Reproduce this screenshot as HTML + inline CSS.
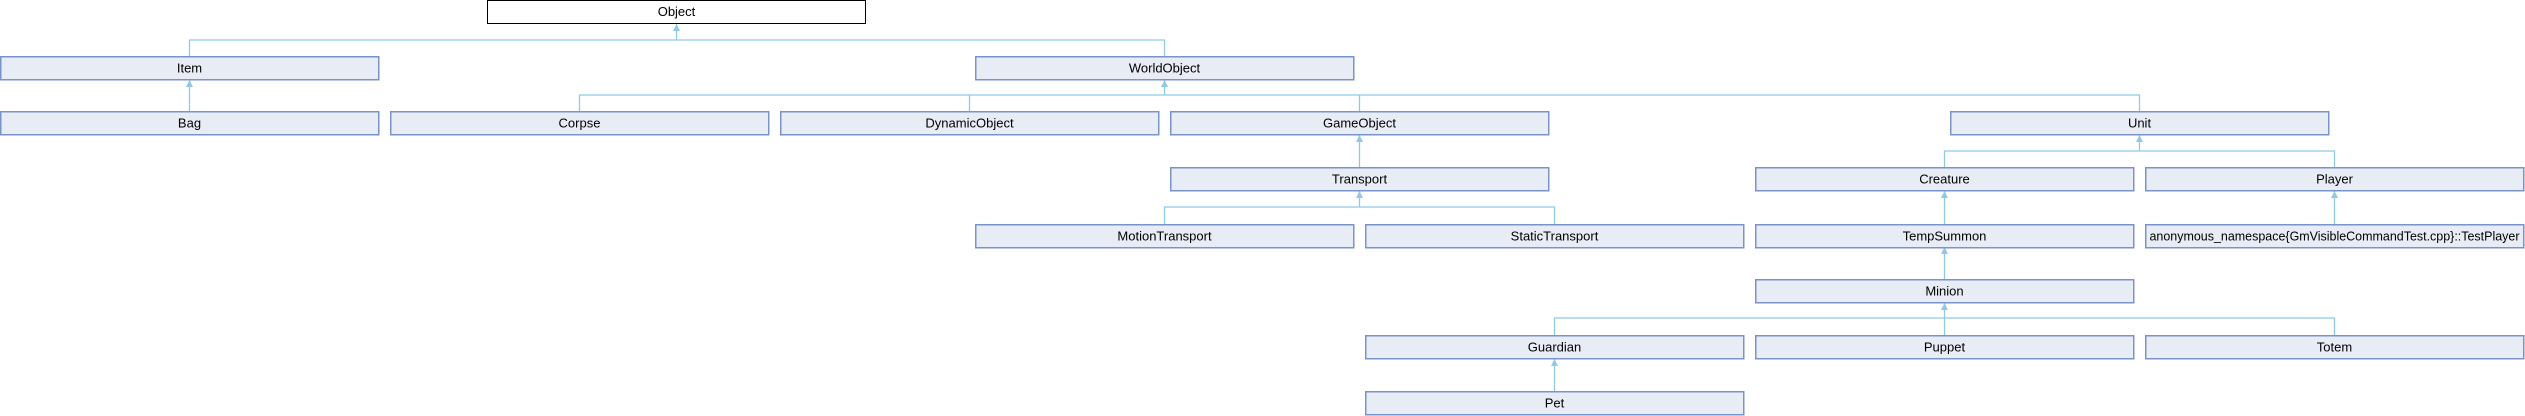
<!DOCTYPE html>
<html><head><meta charset="utf-8"><style>
html,body{margin:0;padding:0;background:#fff;width:2525px;height:416px;overflow:hidden}
text{font-family:"Liberation Sans",sans-serif;font-size:13px;fill:#000}
.b{fill:#e8ecf4;stroke:#7b93cc;stroke-width:1.5}
.l{stroke:#8ecae8;stroke-width:1.3;fill:none}
.a{fill:#8ecae8}
</style></head><body>
<svg width="2525" height="416" xmlns="http://www.w3.org/2000/svg">
<g class="l">
<!-- Object -> Item, WorldObject -->
<polyline points="189.5,56 189.5,40 1164.5,40 1164.5,56"/>
<line x1="676.5" y1="24" x2="676.5" y2="40"/>
<!-- Item->Bag -->
<line x1="189.5" y1="80" x2="189.5" y2="111"/>
<!-- WorldObject children -->
<polyline points="579.5,111 579.5,95 2139.5,95 2139.5,111"/>
<line x1="969.5" y1="95" x2="969.5" y2="111"/>
<line x1="1359.5" y1="95" x2="1359.5" y2="111"/>
<line x1="1164.5" y1="80" x2="1164.5" y2="95"/>
<!-- GameObject->Transport -->
<line x1="1359.5" y1="135" x2="1359.5" y2="167"/>
<!-- Unit children -->
<polyline points="1944.5,167 1944.5,151 2334.5,151 2334.5,167"/>
<line x1="2139.5" y1="135" x2="2139.5" y2="151"/>
<!-- Transport children -->
<polyline points="1164.5,224 1164.5,207 1554.5,207 1554.5,224"/>
<line x1="1359.5" y1="191" x2="1359.5" y2="207"/>
<!-- Creature->TempSummon, Player->anon -->
<line x1="1944.5" y1="191" x2="1944.5" y2="224"/>
<line x1="2334.5" y1="191" x2="2334.5" y2="224"/>
<!-- TempSummon->Minion -->
<line x1="1944.5" y1="247" x2="1944.5" y2="279"/>
<!-- Minion children -->
<polyline points="1554.5,335 1554.5,318 2334.5,318 2334.5,335"/>
<line x1="1944.5" y1="303" x2="1944.5" y2="335"/>
<!-- Guardian->Pet -->
<line x1="1554.5" y1="359" x2="1554.5" y2="391"/>
</g>
<g class="a">
<polygon points="676.5,24 673,31 680,31"/>
<polygon points="189.5,80 186,87 193,87"/>
<polygon points="1164.5,80 1161,87 1168,87"/>
<polygon points="1359.5,135 1356,142 1363,142"/>
<polygon points="2139.5,135 2136,142 2143,142"/>
<polygon points="1359.5,191 1356,198 1363,198"/>
<polygon points="1944.5,191 1941,198 1948,198"/>
<polygon points="2334.5,191 2331,198 2338,198"/>
<polygon points="1944.5,247 1941,254 1948,254"/>
<polygon points="1944.5,303 1941,310 1948,310"/>
<polygon points="1554.5,359 1551,366 1558,366"/>
</g>
<rect x="487.5" y="0.5" width="378" height="23" fill="#fff" stroke="#000" stroke-width="1"/>
<text x="676.5" y="16" text-anchor="middle">Object</text>
<g>
<rect class="b" x="0.75" y="56.75" width="378" height="23"/><text x="189.5" y="72.5" text-anchor="middle">Item</text>
<rect class="b" x="975.75" y="56.75" width="378" height="23"/><text x="1164.5" y="72.5" text-anchor="middle">WorldObject</text>

<rect class="b" x="0.75" y="111.75" width="378" height="23"/><text x="189.5" y="127.5" text-anchor="middle">Bag</text>
<rect class="b" x="390.75" y="111.75" width="378" height="23"/><text x="579.5" y="127.5" text-anchor="middle">Corpse</text>
<rect class="b" x="780.75" y="111.75" width="378" height="23"/><text x="969.5" y="127.5" text-anchor="middle">DynamicObject</text>
<rect class="b" x="1170.75" y="111.75" width="378" height="23"/><text x="1359.5" y="127.5" text-anchor="middle">GameObject</text>
<rect class="b" x="1950.75" y="111.75" width="378" height="23"/><text x="2139.5" y="127.5" text-anchor="middle">Unit</text>

<rect class="b" x="1170.75" y="167.75" width="378" height="23"/><text x="1359.5" y="183.5" text-anchor="middle">Transport</text>
<rect class="b" x="1755.75" y="167.75" width="378" height="23"/><text x="1944.5" y="183.5" text-anchor="middle">Creature</text>
<rect class="b" x="2145.75" y="167.75" width="378" height="23"/><text x="2334.5" y="183.5" text-anchor="middle">Player</text>

<rect class="b" x="975.75" y="224.75" width="378" height="23"/><text x="1164.5" y="240.5" text-anchor="middle">MotionTransport</text>
<rect class="b" x="1365.75" y="224.75" width="378" height="23"/><text x="1554.5" y="240.5" text-anchor="middle">StaticTransport</text>
<rect class="b" x="1755.75" y="224.75" width="378" height="23"/><text x="1944.5" y="240.5" text-anchor="middle">TempSummon</text>
<rect class="b" x="2145.75" y="224.75" width="378" height="23"/><text x="2334.5" y="240.5" text-anchor="middle" textLength="370" lengthAdjust="spacingAndGlyphs">anonymous_namespace{GmVisibleCommandTest.cpp}::TestPlayer</text>

<rect class="b" x="1755.75" y="279.75" width="378" height="23"/><text x="1944.5" y="295.5" text-anchor="middle">Minion</text>

<rect class="b" x="1365.75" y="335.75" width="378" height="23"/><text x="1554.5" y="351.5" text-anchor="middle">Guardian</text>
<rect class="b" x="1755.75" y="335.75" width="378" height="23"/><text x="1944.5" y="351.5" text-anchor="middle">Puppet</text>
<rect class="b" x="2145.75" y="335.75" width="378" height="23"/><text x="2334.5" y="351.5" text-anchor="middle">Totem</text>

<rect class="b" x="1365.75" y="391.75" width="378" height="23"/><text x="1554.5" y="407.5" text-anchor="middle">Pet</text>
</g>
</svg>
</body></html>
